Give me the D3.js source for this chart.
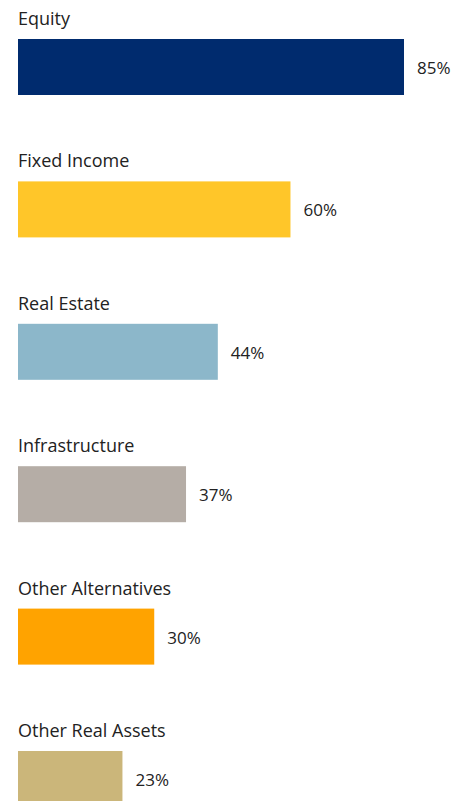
<!DOCTYPE html>
<html>
<head>
<meta charset="utf-8">
<script src="https://cdn.jsdelivr.net/npm/d3@7"></script>
<style>
  html, body { margin: 0; padding: 0; background: #fff; }
  svg { display: block; }
  text { font-family: "Open Sans", "Noto Sans", sans-serif; fill: #222; }
</style>
</head>
<body>
<div id="chart"></div>
<script>
// Allocation shares by asset class
const categories = ["Equity", "Fixed Income", "Real Estate", "Infrastructure", "Other Alternatives", "Other Real Assets"];
const values = [85, 60, 44, 37, 30, 23];
const colors = ["#002b6e", "#ffc629", "#8cb7ca", "#b5ada6", "#ffa300", "#cbb67a"];

const width = 462, height = 801;
const rowStep = 142.4;
const barTop = 39, barHeight = 56, left = 18;

const svg = d3.select("#chart").append("svg")
  .attr("width", width)
  .attr("height", height);

const y = d3.scaleBand()
  .domain(categories)
  .range([0, rowStep * categories.length])
  .padding(0);

const x = d3.scaleLinear()
  .domain([0, 85])
  .range([0, 386]);

const rows = svg.selectAll("g.row")
  .data(categories.map((c, i) => ({ name: c, value: values[i], color: colors[i] })))
  .join("g")
  .attr("class", "row")
  .attr("transform", d => `translate(${left},${y(d.name)})`);

rows.append("text")
  .attr("x", 0)
  .attr("y", barTop - 14)
  .style("font-size", "18px")
  .text(d => d.name);

rows.append("rect")
  .attr("x", 0)
  .attr("y", barTop)
  .attr("width", d => x(d.value))
  .attr("height", barHeight)
  .attr("fill", d => d.color);

rows.append("text")
  .attr("x", d => x(d.value) + 13)
  .attr("y", barTop + barHeight / 2 + 1)
  .attr("dy", "0.35em")
  .style("font-size", "17px")
  .text(d => d.value + "%");
</script>
</body>
</html>
